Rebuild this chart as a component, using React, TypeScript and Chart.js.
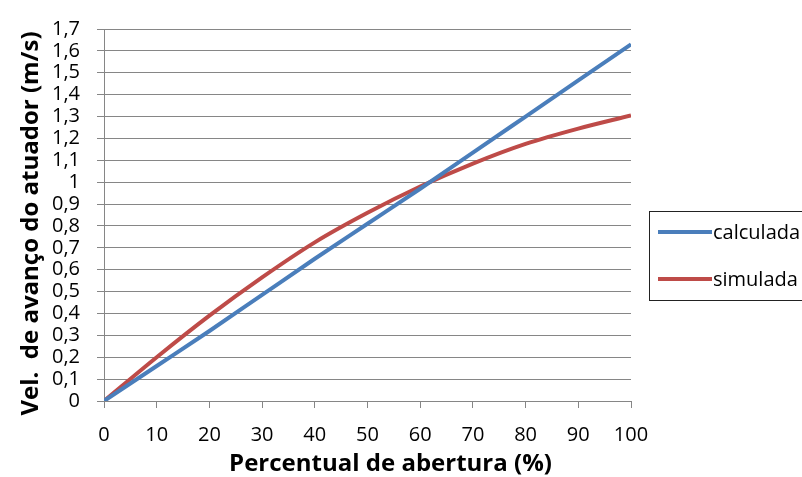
import { useEffect, useRef } from 'react';
import { Chart, registerables } from 'chart.js';

Chart.register(...registerables);

// ---- data ----
const openings = [0, 10, 20, 30, 40, 50, 60, 70, 80, 90, 100];
const calculada = [0, 0.16, 0.32, 0.485, 0.65, 0.81, 0.97, 1.135, 1.3, 1.465, 1.63];
const simulada = [0, 0.2, 0.39, 0.565, 0.725, 0.86, 0.98, 1.085, 1.175, 1.245, 1.305];
const seriesLabels = ['calculada', 'simulada'];
const seriesColors = ['#4A7EBB', '#BE4B48'];
const xTitle = 'Percentual de abertura (%)';
const yTitle = 'Vel.  de avanço do atuador (m/s)';

const GRID = '#868686';
const FONT = '"Open Sans", "DejaVu Sans", sans-serif';

const titlesAndLegend = {
  id: 'titlesAndLegend',
  afterDraw(chart: any) {
    const ctx = chart.ctx as CanvasRenderingContext2D;
    ctx.save();
    // axis titles
    ctx.fillStyle = '#000';
    ctx.font = `bold 24px ${FONT}`;
    ctx.textAlign = 'center';
    ctx.textBaseline = 'alphabetic';
    ctx.fillText(xTitle, 390.5, 471);
    ctx.save();
    ctx.translate(38, 223.5);
    ctx.rotate(-Math.PI / 2);
    ctx.fillText(yTitle, 0, 0);
    ctx.restore();

    // legend
    ctx.strokeStyle = '#222';
    ctx.lineWidth = 1;
    ctx.strokeRect(649.5, 211.5, 170, 89);
    const rows = [232, 279];
    chart.data.datasets.forEach((ds: any, i: number) => {
      const y = rows[i];
      ctx.strokeStyle = ds.borderColor;
      ctx.lineWidth = 4;
      ctx.beginPath();
      ctx.moveTo(658, y);
      ctx.lineTo(712, y);
      ctx.stroke();
      ctx.fillStyle = '#000';
      ctx.font = `20px ${FONT}`;
      ctx.textAlign = 'left';
      ctx.textBaseline = 'middle';
      ctx.fillText(ds.label, 713, y + 1);
    });
    ctx.restore();
  },
};

export default function App() {
  const ref = useRef<HTMLCanvasElement | null>(null);

  useEffect(() => {
    if (!ref.current) return;
    const chart = new Chart(ref.current, {
      type: 'line',
      data: {
        datasets: [calculada, simulada].map((vals, i) => ({
          label: seriesLabels[i],
          data: openings.map((x, j) => ({ x, y: vals[j] })),
          borderColor: seriesColors[i],
          backgroundColor: seriesColors[i],
          borderWidth: 4,
          pointRadius: 0,
          cubicInterpolationMode: 'monotone' as const,
          fill: false,
        })),
      },
      options: {
        animation: false,
        responsive: true,
        maintainAspectRatio: false,
        layout: { padding: { left: 0, right: 171, top: 17, bottom: 0 } },
        plugins: {
          legend: { display: false },
          tooltip: { enabled: false },
          title: { display: false },
        },
        scales: {
          x: {
            type: 'linear',
            min: 0,
            max: 100,
            afterFit(scale: any) {
              scale.height = 76;
            },
            ticks: {
              stepSize: 10,
              padding: 15,
              color: '#000',
              font: { family: FONT, size: 20 },
              maxRotation: 0,
              autoSkip: false,
            },
            grid: {
              drawOnChartArea: false,
              drawTicks: true,
              tickLength: 7,
              color: GRID,
              lineWidth: 1,
            },
            border: { display: true, color: GRID, width: 1 },
          },
          y: {
            type: 'linear',
            min: 0,
            max: 1.7,
            afterFit(scale: any) {
              scale.width = 104;
            },
            ticks: {
              stepSize: 0.1,
              padding: 17,
              color: '#000',
              autoSkip: false,
              font: { family: FONT, size: 20 },
              callback: (v: any) => {
                const n = Math.round(Number(v) * 10) / 10;
                return String(n).replace('.', ',');
              },
            },
            grid: {
              drawOnChartArea: true,
              drawTicks: true,
              tickLength: 7,
              color: GRID,
              lineWidth: 1,
            },
            border: { display: true, color: GRID, width: 1 },
          },
        },
      },
      plugins: [titlesAndLegend],
    });
    return () => chart.destroy();
  }, []);

  return (
    <div style={{ position: 'absolute', left: 0, top: 0, width: 802, height: 477, background: '#fff' }}>
      <canvas ref={ref} />
    </div>
  );
}
